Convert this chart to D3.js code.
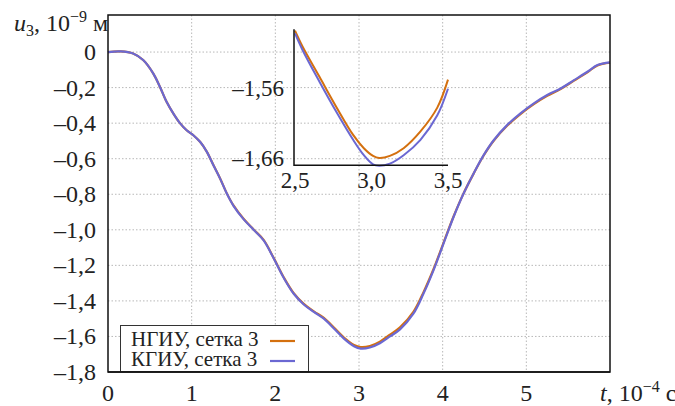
<!DOCTYPE html>
<html><head><meta charset="utf-8">
<script src="https://cdn.jsdelivr.net/npm/d3@7"></script>
</head>
<body style="margin:0">
<svg id="c" width="675" height="406"></svg>
<script>
// ---- data ----
const tMain = [0,0.15,0.3,0.42,0.54,0.62,0.7,0.78,0.86,0.94,1.02,1.1,1.18,1.26,1.34,1.42,1.5,1.62,1.74,1.86,1.98,2.1,2.22,2.34,2.46,2.58,2.7,2.82,2.94,3.02,3.13,3.25,3.37,3.49,3.65,3.77,3.89,4.01,4.13,4.25,4.37,4.49,4.61,4.77,4.93,5.09,5.25,5.41,5.57,5.73,5.85,6.0];
const kgiuMain = [0,0.004,-0.008,-0.045,-0.12,-0.195,-0.28,-0.345,-0.40,-0.44,-0.468,-0.505,-0.56,-0.637,-0.712,-0.796,-0.865,-0.94,-1.0,-1.059,-1.16,-1.27,-1.36,-1.42,-1.462,-1.50,-1.555,-1.612,-1.655,-1.668,-1.662,-1.638,-1.600,-1.560,-1.472,-1.36,-1.228,-1.078,-0.928,-0.796,-0.683,-0.58,-0.496,-0.411,-0.345,-0.289,-0.242,-0.205,-0.158,-0.111,-0.073,-0.058];
const ngiuMain = [0,0.004,-0.008,-0.045,-0.12,-0.195,-0.28,-0.345,-0.40,-0.44,-0.468,-0.505,-0.56,-0.636,-0.711,-0.795,-0.863,-0.938,-0.998,-1.057,-1.158,-1.267,-1.357,-1.417,-1.459,-1.496,-1.55,-1.606,-1.648,-1.660,-1.654,-1.629,-1.590,-1.549,-1.462,-1.352,-1.222,-1.073,-0.925,-0.795,-0.684,-0.582,-0.499,-0.415,-0.349,-0.293,-0.246,-0.208,-0.161,-0.114,-0.075,-0.059];
const tInset = [2.5,2.55,2.66,2.77,2.88,2.95,3.01,3.05,3.12,3.21,3.32,3.43,3.5];
const ngiuInset = [-1.478,-1.501,-1.544,-1.587,-1.627,-1.646,-1.657,-1.660,-1.657,-1.646,-1.622,-1.588,-1.548];
const kgiuInset = [-1.482,-1.506,-1.551,-1.594,-1.634,-1.656,-1.669,-1.671,-1.668,-1.656,-1.634,-1.599,-1.561];
const xTicks = [0,1,2,3,4,5];
const yTicks = [0,-0.2,-0.4,-0.6,-0.8,-1.0,-1.2,-1.4,-1.6,-1.8];
const xInsetTicks = [2.5,3.0,3.5];
const yInsetTicks = [-1.56,-1.66];
const seriesNames = ["НГИУ, сетка 3","КГИУ, сетка 3"];
const colors = ["#d4700f","#6b68d2"];

const fmt1 = v => (v<0?"–":"") + (v===0?"0":Math.abs(v).toFixed(1).replace(".",","));
const fmt2 = v => (v<0?"–":"") + Math.abs(v).toFixed(2).replace(".",",");
const st = s => `font-family: Tinos, "Times New Roman", "Liberation Serif"; font-size: ${s}px; fill: #222`;

const svg = d3.select("#c");
const x = d3.scaleLinear().domain([0,6]).range([108,610]);
const y = d3.scaleLinear().domain([-1.8,0.2085]).range([372,15]);

// grid
const g = svg.append("g");
g.selectAll(".vg").data([1,2,3,4,5]).join("line")
  .attr("x1",d=>x(d)).attr("x2",d=>x(d)).attr("y1",15).attr("y2",372)
  .attr("stroke","#b8b8b8").attr("stroke-width",1).attr("stroke-dasharray","1.5,2");
g.selectAll(".hg").data(yTicks.filter(d=>d>-1.8)).join("line")
  .attr("x1",108).attr("x2",610).attr("y1",d=>y(d)).attr("y2",d=>y(d))
  .attr("stroke","#b8b8b8").attr("stroke-width",1).attr("stroke-dasharray","1.5,2");

// tick labels
svg.selectAll(".yl").data(yTicks).join("text")
  .attr("x",96).attr("y",d=>y(d)+8).attr("text-anchor","end")
  .attr("style",st(24)).text(d=>d===0?"0":fmt1(d));
svg.selectAll(".xl").data(xTicks).join("text")
  .attr("x",d=>x(d)).attr("y",401).attr("text-anchor","middle")
  .attr("style",st(24)).text(d=>String(d));

// axis titles
const yt = svg.append("text").attr("x",14).attr("y",31).attr("style",st(24));
yt.append("tspan").attr("font-style","italic").text("u");
yt.append("tspan").attr("font-size",16).attr("dy",5).text("3");
yt.append("tspan").attr("dy",-5).text(", 10");
yt.append("tspan").attr("font-size",16).attr("dy",-9).text("−9");
yt.append("tspan").attr("dy",9).text(" м");

const xt = svg.append("text").attr("x",600).attr("y",401).attr("style",st(24));
xt.append("tspan").attr("font-style","italic").text("t");
xt.append("tspan").text(", 10");
xt.append("tspan").attr("font-size",16).attr("dy",-9).text("−4");
xt.append("tspan").attr("dy",9).text(" c");

// main lines
const line = d3.line().x(d=>x(d[0])).y(d=>y(d[1])).curve(d3.curveCatmullRom.alpha(0.5));
[ngiuMain,kgiuMain].forEach((vals,i)=>{
  svg.append("path").datum(tMain.map((t,j)=>[t,vals[j]]))
    .attr("d",line).attr("fill","none").attr("stroke",colors[i]).attr("stroke-width",2.2);
});

// frame
svg.append("rect").attr("x",108).attr("y",15).attr("width",502).attr("height",357)
  .attr("fill","none").attr("stroke","#111").attr("stroke-width",1.5);

// inset
const xi = d3.scaleLinear().domain([2.5,3.5]).range([295,448]);
const yi = d3.scaleLinear().domain([-1.56,-1.66]).range([88,158]);
const lineI = d3.line().x(d=>xi(d[0])).y(d=>yi(d[1])).curve(d3.curveCatmullRom.alpha(0.5));
[ngiuInset,kgiuInset].forEach((vals,i)=>{
  svg.append("path").datum(tInset.map((t,j)=>[t,vals[j]]))
    .attr("d",lineI).attr("fill","none").attr("stroke",colors[i]).attr("stroke-width",2);
});
svg.append("path").attr("d",`M${xi(2.5)-1},${yi(-1.476)}V${yi(-1.6705)}H${xi(3.5)}`)
  .attr("fill","none").attr("stroke","#111").attr("stroke-width",1.5);
svg.selectAll(".yil").data(yInsetTicks).join("text")
  .attr("x",284).attr("y",d=>yi(d)+8).attr("text-anchor","end")
  .attr("style",st(23)).text(fmt2);
svg.selectAll(".xil").data(xInsetTicks).join("text")
  .attr("x",d=>xi(d)).attr("y",188).attr("text-anchor","middle")
  .attr("style",st(23)).text(d=>d.toFixed(1).replace(".",","));

// legend
svg.append("rect").attr("x",120.5).attr("y",325.5).attr("width",188).attr("height",46)
  .attr("fill","#fff").attr("stroke","#333").attr("stroke-width",1);
seriesNames.forEach((n,i)=>{
  svg.append("text").attr("x",131).attr("y",346+i*20).attr("style",st(21)).text(n);
  svg.append("line").attr("x1",270).attr("x2",295).attr("y1",341+i*20).attr("y2",341+i*20)
    .attr("stroke",colors[i]).attr("stroke-width",2.2);
});
svg.append("line").attr("x1",108).attr("x2",610).attr("y1",372).attr("y2",372)
  .attr("stroke","#111").attr("stroke-width",1.5);
</script></body></html>
